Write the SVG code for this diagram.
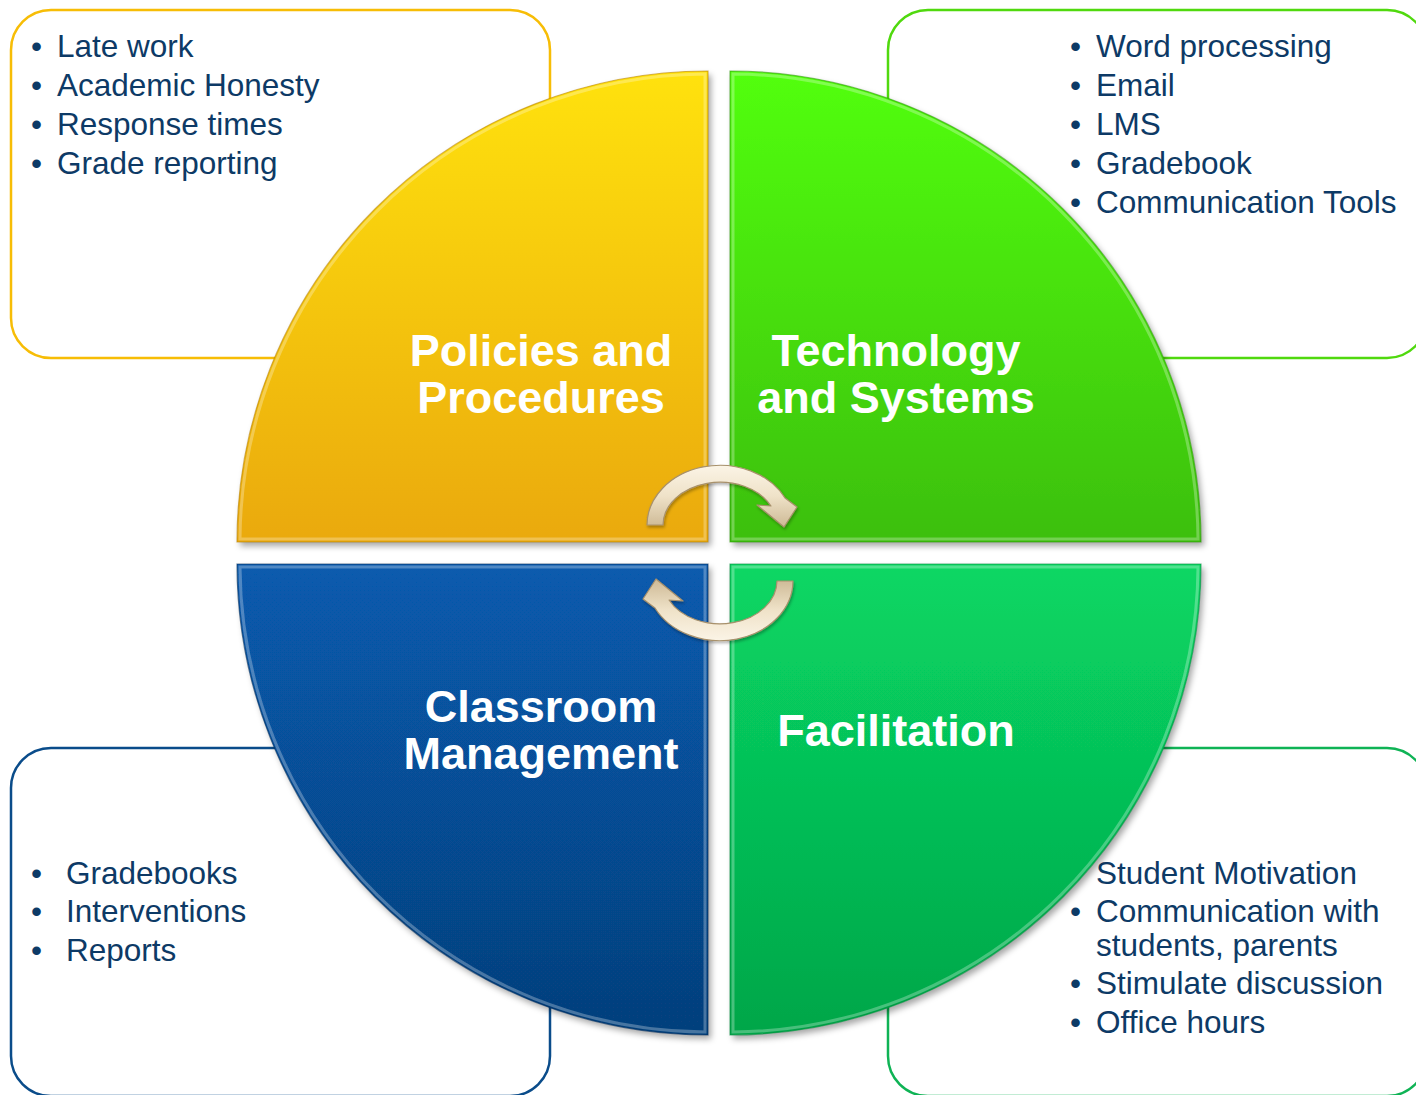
<svg xmlns="http://www.w3.org/2000/svg" width="1416" height="1095" viewBox="0 0 1416 1095">
  <style>
    .box { fill: #ffffff; stroke-width: 2.5; }
    .item { font-family: "Liberation Sans", Arial, sans-serif; font-size: 31.5px; fill: #0d3a66; }
    .title { font-family: "Liberation Sans", Arial, sans-serif; font-size: 45px; font-weight: bold; fill: #ffffff; text-anchor: middle; }
    .bevel { fill: none; stroke: #ffffff; stroke-opacity: 0.28; stroke-width: 3; }
    .edge { fill: none; stroke-opacity: 0.6; stroke-width: 1.2; }
    .arrow { fill: url(#arrowFill); stroke: #a8916c; stroke-width: 1.2; stroke-linejoin: round; }
  </style>
  <defs>
    <linearGradient id="gYellow" x1="0" y1="0" x2="0" y2="1">
      <stop offset="0" stop-color="#ffe208"/>
      <stop offset="1" stop-color="#eaa90a"/>
    </linearGradient>
    <linearGradient id="gLime" x1="0" y1="0" x2="0" y2="1">
      <stop offset="0" stop-color="#52ff0e"/>
      <stop offset="1" stop-color="#3cbf0e"/>
    </linearGradient>
    <linearGradient id="gBlue" x1="0" y1="0" x2="0" y2="1">
      <stop offset="0" stop-color="#075bae"/>
      <stop offset="1" stop-color="#063f7c"/>
    </linearGradient>
    <linearGradient id="gGreen" x1="0" y1="0" x2="0" y2="1">
      <stop offset="0" stop-color="#08d764"/>
      <stop offset="1" stop-color="#03a649"/>
    </linearGradient>
    <linearGradient id="arrowFill" x1="0" y1="0" x2="0" y2="1">
      <stop offset="0" stop-color="#fbf4e6"/>
      <stop offset="0.5" stop-color="#efe2c8"/>
      <stop offset="1" stop-color="#cdb995"/>
    </linearGradient>
    <filter id="shadow" x="-10%" y="-10%" width="125%" height="125%">
      <feDropShadow dx="3" dy="4" stdDeviation="3" flood-color="#000000" flood-opacity="0.35"/>
    </filter>
    <filter id="arrowShadow" x="-20%" y="-20%" width="140%" height="140%">
      <feDropShadow dx="1" dy="2" stdDeviation="1.5" flood-color="#000000" flood-opacity="0.3"/>
    </filter>
  </defs>

  <!-- outlined text panels behind the wheel -->
  <g id="panel-policies">
    <rect class="box" x="11" y="10" width="539" height="348" rx="40" stroke="#f7bd06"/>
    <text class="item" x="31" y="57">•</text><text class="item" x="57" y="57">Late work</text>
    <text class="item" x="31" y="96">•</text><text class="item" x="57" y="96">Academic Honesty</text>
    <text class="item" x="31" y="135">•</text><text class="item" x="57" y="135">Response times</text>
    <text class="item" x="31" y="174">•</text><text class="item" x="57" y="174">Grade reporting</text>
  </g>
  <g id="panel-technology">
    <rect class="box" x="888" y="10" width="539" height="348" rx="40" stroke="#50d90e"/>
    <text class="item" x="1070" y="57">•</text><text class="item" x="1096" y="57">Word processing</text>
    <text class="item" x="1070" y="96">•</text><text class="item" x="1096" y="96">Email</text>
    <text class="item" x="1070" y="135">•</text><text class="item" x="1096" y="135">LMS</text>
    <text class="item" x="1070" y="174">•</text><text class="item" x="1096" y="174">Gradebook</text>
    <text class="item" x="1070" y="213">•</text><text class="item" x="1096" y="213">Communication Tools</text>
  </g>
  <g id="panel-classroom">
    <rect class="box" x="11" y="748" width="539" height="348" rx="40" stroke="#0a4c8a"/>
    <text class="item" x="31" y="884">•</text><text class="item" x="66" y="884">Gradebooks</text>
    <text class="item" x="31" y="922">•</text><text class="item" x="66" y="922">Interventions</text>
    <text class="item" x="31" y="961">•</text><text class="item" x="66" y="961">Reports</text>
  </g>
  <g id="panel-facilitation">
    <rect class="box" x="888" y="748" width="539" height="348" rx="40" stroke="#0fb355"/>
    <text class="item" x="1096" y="884">Student Motivation</text>
    <text class="item" x="1070" y="922">•</text><text class="item" x="1096" y="922">Communication with</text>
    <text class="item" x="1096" y="956">students, parents</text>
    <text class="item" x="1070" y="994">•</text><text class="item" x="1096" y="994">Stimulate discussion</text>
    <text class="item" x="1070" y="1033">•</text><text class="item" x="1096" y="1033">Office hours</text>
  </g>

  <!-- four quarter segments of the wheel -->
  <g id="node-policies">
    <path d="M708 542 L237 542 A471 471 0 0 1 708 71 Z" fill="url(#gYellow)" filter="url(#shadow)"/>
    <path class="bevel" d="M705 539 L240 539 A468 468 0 0 1 705 74 Z"/>
    <path class="edge" stroke="#b98200" d="M708 542 L237 542 A471 471 0 0 1 708 71 Z"/>
    <text class="title" x="541" y="366">Policies and</text>
    <text class="title" x="541" y="413">Procedures</text>
  </g>
  <g id="node-technology">
    <path d="M730 542 L730 71 A471 471 0 0 1 1201 542 Z" fill="url(#gLime)" filter="url(#shadow)"/>
    <path class="bevel" d="M733 539 L733 74 A468 468 0 0 1 1198 539 Z"/>
    <path class="edge" stroke="#2f9a08" d="M730 542 L730 71 A471 471 0 0 1 1201 542 Z"/>
    <text class="title" x="896" y="366">Technology</text>
    <text class="title" x="896" y="413">and Systems</text>
  </g>
  <g id="node-classroom">
    <path d="M708 564 L708 1035 A471 471 0 0 1 237 564 Z" fill="url(#gBlue)" filter="url(#shadow)"/>
    <path class="bevel" d="M705 567 L705 1032 A468 468 0 0 1 240 567 Z"/>
    <path class="edge" stroke="#042d5c" d="M708 564 L708 1035 A471 471 0 0 1 237 564 Z"/>
    <text class="title" x="541" y="722">Classroom</text>
    <text class="title" x="541" y="769">Management</text>
  </g>
  <g id="node-facilitation">
    <path d="M730 564 L1201 564 A471 471 0 0 1 730 1035 Z" fill="url(#gGreen)" filter="url(#shadow)"/>
    <path class="bevel" d="M733 567 L1198 567 A468 468 0 0 1 733 1032 Z"/>
    <path class="edge" stroke="#028a3c" d="M730 564 L1201 564 A471 471 0 0 1 730 1035 Z"/>
    <text class="title" x="896" y="746">Facilitation</text>
  </g>

  <!-- circular arrows at the hub -->
  <g id="connectors" filter="url(#arrowShadow)">
    <path id="arrow-top" class="arrow" d="M647 525 A73 60 0 0 1 785 498 L797 507 L784 527 L757 505 L771 506 A57 43 0 0 0 663 525 Z"/>
    <path id="arrow-bottom" class="arrow" transform="rotate(180 720 553)" d="M647 525 A73 60 0 0 1 785 498 L797 507 L784 527 L757 505 L771 506 A57 43 0 0 0 663 525 Z"/>
  </g>
</svg>
